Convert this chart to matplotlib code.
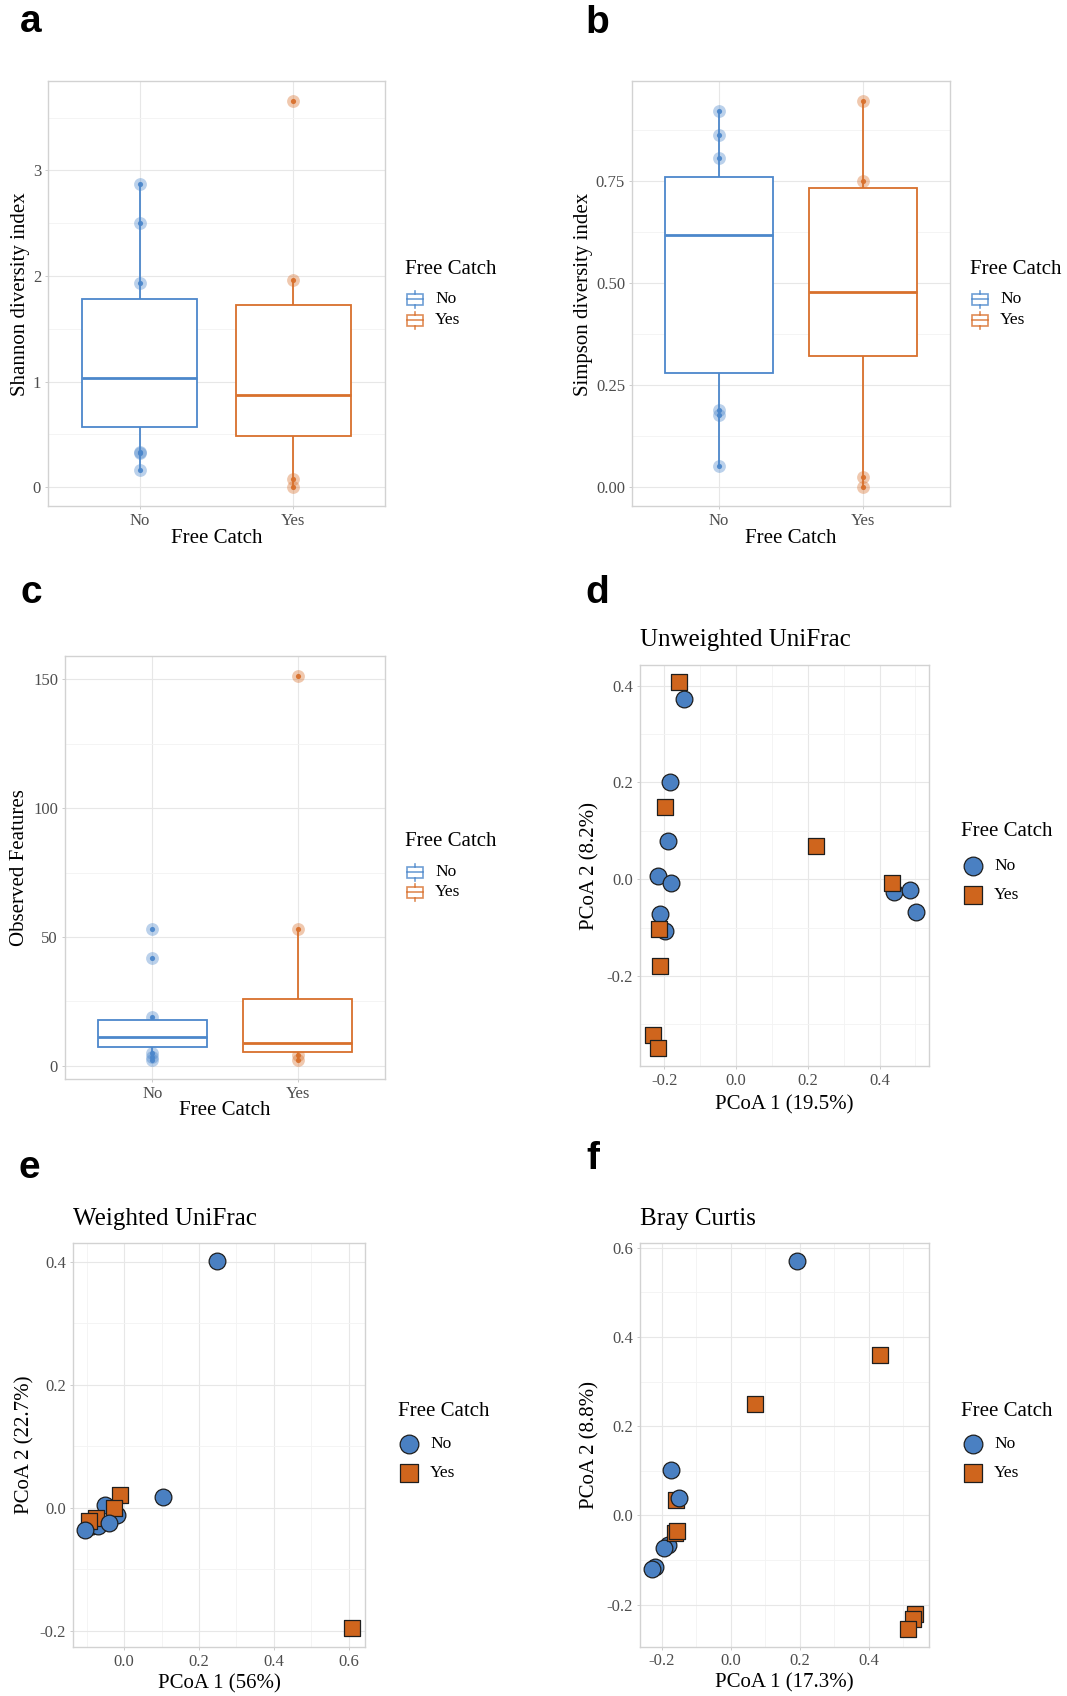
import matplotlib
matplotlib.use("Agg")
import matplotlib.pyplot as plt
from matplotlib.patches import Rectangle
from matplotlib.ticker import MultipleLocator, FuncFormatter

W, H, DPI = 1067, 1696, 100
plt.rcParams["font.family"] = ["Liberation Serif", "DejaVu Serif"]
plt.rcParams["axes.unicode_minus"] = False

# ---------------- data ----------------
groups = ["No", "Yes"]

# Shannon diversity index: box statistics per group (No, Yes)
shannon_q1 = [0.565, 0.484]
shannon_median = [1.032, 0.873]
shannon_q3 = [1.782, 1.725]
shannon_whislo = [0.159, 0.0]
shannon_whishi = [2.875, 1.958]
shannon_points_no = [2.875, 2.503, 1.935, 0.328, 0.320, 0.159]
shannon_points_yes = [3.660, 1.958, 0.078, 0.0]

# Simpson diversity index
simpson_q1 = [0.280, 0.322]
simpson_median = [0.617, 0.478]
simpson_q3 = [0.759, 0.733]
simpson_whislo = [0.052, 0.0]
simpson_whishi = [0.921, 0.947]
simpson_points_no = [0.921, 0.863, 0.807, 0.190, 0.177, 0.052]
simpson_points_yes = [0.947, 0.750, 0.0245, 0.0]

# Observed features
observed_q1 = [7.35, 5.3]
observed_median = [11.4, 8.7]
observed_q3 = [17.7, 25.9]
observed_whislo = [2.4, 2.4]
observed_whishi = [19.0, 53.0]
observed_points_no = [53.0, 41.9, 19.0, 4.85, 3.5, 2.4]
observed_points_yes = [151.5, 53.0, 4.2, 2.4]

# Unweighted UniFrac PCoA (drawing order)
unw_pc1 = [-0.159, -0.144, -0.184, -0.190, -0.219, -0.182, -0.213, -0.199, 0.439, 0.484,
           0.503, -0.199, 0.223, 0.434, -0.215, -0.211, -0.232, -0.217]
unw_pc2 = [0.407, 0.372, 0.201, 0.079, 0.006, -0.008, -0.073, -0.108, -0.027, -0.023,
           -0.067, 0.150, 0.069, -0.007, -0.102, -0.180, -0.323, -0.348]
unw_grp = ["Yes", "No", "No", "No", "No", "No", "No", "No", "No", "No",
           "No", "Yes", "Yes", "Yes", "Yes", "Yes", "Yes", "Yes"]

# Weighted UniFrac PCoA
wu_pc1 = [-0.052, -0.018, -0.085, -0.070, -0.011, -0.028, -0.075, -0.093, 0.609,
          -0.042, -0.104, 0.105, 0.247]
wu_pc2 = [0.005, -0.012, -0.029, -0.030, 0.021, 0.000, -0.016, -0.021, -0.196,
          -0.025, -0.036, 0.018, 0.401]
wu_grp = ["No", "No", "No", "No", "Yes", "Yes", "Yes", "Yes", "Yes",
          "No", "No", "No", "No"]

# Bray Curtis PCoA
bc_pc1 = [-0.160, 0.193, -0.175, -0.152, -0.183, -0.193, -0.221, -0.228,
          -0.163, -0.158, 0.432, 0.071, 0.533, 0.528, 0.515]
bc_pc2 = [0.034, 0.571, 0.101, 0.038, -0.067, -0.074, -0.116, -0.120,
          -0.040, -0.035, 0.360, 0.250, -0.221, -0.233, -0.255]
bc_grp = ["Yes", "No", "No", "No", "No", "No", "No", "No",
          "Yes", "Yes", "Yes", "Yes", "Yes", "Yes", "Yes"]

# ---------------- styling ----------------
LINE = {"No": "#4C87CB", "Yes": "#D8702C"}
FILL = {"No": "#4A80C2", "Yes": "#CF651D"}
MARK = {"No": "o", "Yes": "s"}
MSIZE = {"No": 145, "Yes": 135}
EDGE = "#1e1e1e"

fig = plt.figure(figsize=(W / DPI, H / DPI), dpi=DPI)


def add_axes_px(l, t, r, b):
    return fig.add_axes([l / W, 1 - b / H, (r - l) / W, (b - t) / H])


def style(ax):
    ax.set_facecolor("white")
    for sp in ax.spines.values():
        sp.set_color("#d2d2d2")
        sp.set_linewidth(1.0)
    ax.tick_params(which="major", length=2.5, width=0.6, color="#c4c4c4",
                   labelsize=12, labelcolor="#4d4d4d", pad=2.5)
    ax.tick_params(which="minor", length=0)
    ax.grid(which="major", color="#e7e7e7", lw=0.8)
    ax.grid(which="minor", color="#f3f3f3", lw=0.6)
    ax.set_axisbelow(True)


def labels(ax, xl, yl, xpos, ypos):
    ax.set_xlabel(xl, fontsize=15, va="center")
    ax.xaxis.set_label_coords(0.5, xpos)
    ax.set_ylabel(yl, fontsize=15, va="center")
    ax.yaxis.set_label_coords(ypos, 0.5)


def box_panel(ax, q1, med, q3, lo, hi, pts_no, pts_yes, ylim, major, minor, fmt, ylab, xpos, ypos):
    style(ax)
    stats = []
    for i in range(2):
        stats.append(dict(q1=q1[i], med=med[i], q3=q3[i], whislo=lo[i], whishi=hi[i], fliers=[]))
    # individual samples underneath the boxes
    for pos, g, pts in ((1, "No", pts_no), (2, "Yes", pts_yes)):
        ax.scatter([pos] * len(pts), pts, s=85, color=LINE[g], alpha=0.38, lw=0, zorder=1)
        ax.scatter([pos] * len(pts), pts, s=14, color=LINE[g], alpha=0.95, lw=0, zorder=1.2)
    art = ax.bxp(stats, positions=[1, 2], widths=0.75, showcaps=False, showfliers=False,
                 patch_artist=True, manage_ticks=False)
    for i, g in enumerate(groups):
        art["boxes"][i].set(facecolor="white", edgecolor=LINE[g], linewidth=1.3, zorder=2)
        art["medians"][i].set(color=LINE[g], linewidth=2.0, zorder=3)
        for w in art["whiskers"][2 * i:2 * i + 2]:
            w.set(color=LINE[g], linewidth=1.3, zorder=1.5)
    ax.set_xlim(0.4, 2.6)
    ax.set_ylim(*ylim)
    ax.set_xticks([1, 2])
    ax.set_xticklabels(groups)
    ax.yaxis.set_major_locator(MultipleLocator(major))
    ax.yaxis.set_minor_locator(MultipleLocator(minor))
    ax.yaxis.set_major_formatter(FuncFormatter(lambda v, p: fmt % v))
    ax.grid(which="minor", axis="x", visible=False)
    labels(ax, "Free Catch", ylab, xpos, ypos)


def pcoa_panel(ax, pc1, pc2, grp, xlim, ylim, title, xlab, ylab, xpos, ypos):
    style(ax)
    for x, y, g in zip(pc1, pc2, grp):
        ax.scatter(x, y, s=MSIZE[g], marker=MARK[g], facecolor=FILL[g], edgecolor=EDGE,
                   linewidth=0.9, zorder=3)
    ax.set_xlim(*xlim)
    ax.set_ylim(*ylim)
    ax.xaxis.set_major_locator(MultipleLocator(0.2))
    ax.xaxis.set_minor_locator(MultipleLocator(0.1))
    ax.yaxis.set_major_locator(MultipleLocator(0.2))
    ax.yaxis.set_minor_locator(MultipleLocator(0.1))
    f = FuncFormatter(lambda v, p: "%.1f" % (0.0 if abs(v) < 1e-9 else v))
    ax.xaxis.set_major_formatter(f)
    ax.yaxis.set_major_formatter(f)
    ax.set_title(title, loc="left", fontsize=18, y=1.06, va="center", pad=0)
    labels(ax, xlab, ylab, xpos, ypos)


ax_a = add_axes_px(48, 81.4, 385, 506.4)
box_panel(ax_a, shannon_q1, shannon_median, shannon_q3, shannon_whislo, shannon_whishi,
          shannon_points_no, shannon_points_yes, (-0.183, 3.843), 1, 0.5, "%d",
          "Shannon diversity index", -0.075, -0.083)

ax_b = add_axes_px(632, 81.4, 950, 506.4)
box_panel(ax_b, simpson_q1, simpson_median, simpson_q3, simpson_whislo, simpson_whishi,
          simpson_points_no, simpson_points_yes, (-0.047, 0.994), 0.25, 0.125, "%.2f",
          "Simpson diversity index", -0.075, -0.152)

ax_c = add_axes_px(65, 656.4, 385, 1078.9)
box_panel(ax_c, observed_q1, observed_median, observed_q3, observed_whislo, observed_whishi,
          observed_points_no, observed_points_yes, (-5.05, 158.95), 50, 25, "%d",
          "Observed Features", -0.074, -0.142)

ax_d = add_axes_px(640, 664.6, 929, 1066.4)
pcoa_panel(ax_d, unw_pc1, unw_pc2, unw_grp, (-0.268, 0.538), (-0.387, 0.4435),
           "Unweighted UniFrac", "PCoA 1 (19.5%)", "PCoA 2 (8.2%)", -0.095, -0.175)

ax_e = add_axes_px(73, 1243, 365, 1647)
pcoa_panel(ax_e, wu_pc1, wu_pc2, wu_grp, (-0.137, 0.644), (-0.2265, 0.4305),
           "Weighted UniFrac", "PCoA 1 (56%)", "PCoA 2 (22.7%)", -0.092, -0.165)

ax_f = add_axes_px(640, 1243, 929, 1646.5)
pcoa_panel(ax_f, bc_pc1, bc_pc2, bc_grp, (-0.264, 0.575), (-0.294, 0.6105),
           "Bray Curtis", "PCoA 1 (17.3%)", "PCoA 2 (8.8%)", -0.09, -0.175)

# ---------------- legends and panel letters (figure pixel space) ----------------
ov = fig.add_axes([0, 0, 1, 1], zorder=10)
ov.set_xlim(0, W)
ov.set_ylim(H, 0)
ov.axis("off")
ov.patch.set_alpha(0)


def box_legend(x_title, y_title, x_key, x_lab, y_no, y_yes):
    ov.text(x_title, y_title, "Free Catch", fontsize=15, ha="left", va="center")
    for g, y in (("No", y_no), ("Yes", y_yes)):
        c = LINE[g]
        ov.add_patch(Rectangle((x_key - 8, y - 5.5), 16, 11, fill=False, ec=c, lw=1.2, alpha=0.8))
        ov.plot([x_key - 8, x_key + 8], [y, y], color=c, lw=1.2, alpha=0.8)
        ov.plot([x_key, x_key], [y - 5.5, y - 8.5], color=c, lw=1.2, alpha=0.8)
        ov.plot([x_key, x_key], [y + 5.5, y + 8.5], color=c, lw=1.2, alpha=0.8)
        ov.text(x_lab, y, g, fontsize=12.5, ha="left", va="center")


def point_legend(x_title, y_title, x_key, x_lab, y_no, y_yes):
    ov.text(x_title, y_title, "Free Catch", fontsize=15, ha="left", va="center")
    for g, y in (("No", y_no), ("Yes", y_yes)):
        ov.scatter(x_key, y, s=MSIZE[g] * 1.25, marker=MARK[g], facecolor=FILL[g],
                   edgecolor=EDGE, linewidth=0.9)
        ov.text(x_lab, y, g, fontsize=12.5, ha="left", va="center")


box_legend(405, 269.6, 415, 435, 299, 320)
box_legend(970, 269.6, 980, 1000, 299, 320)
box_legend(405, 842, 415, 435, 872, 892)
point_legend(961, 832, 973, 994, 866, 895)
point_legend(398, 1411, 409, 430, 1444, 1473)
point_legend(961, 1411, 973, 994, 1444, 1473)

letter_kw = dict(fontsize=28, fontweight="bold", family=["Liberation Sans", "DejaVu Sans"],
                 ha="left", va="baseline")
ov.text(20, 32, "a", **letter_kw)
ov.text(585, 33, "b", **letter_kw)
ov.text(20, 603, "c", **letter_kw)
ov.text(585, 603, "d", **letter_kw)
ov.text(19, 1178, "e", **letter_kw)
ov.text(586, 1169, "f", **letter_kw)

fig.savefig("out.png", dpi=DPI, facecolor="white")
